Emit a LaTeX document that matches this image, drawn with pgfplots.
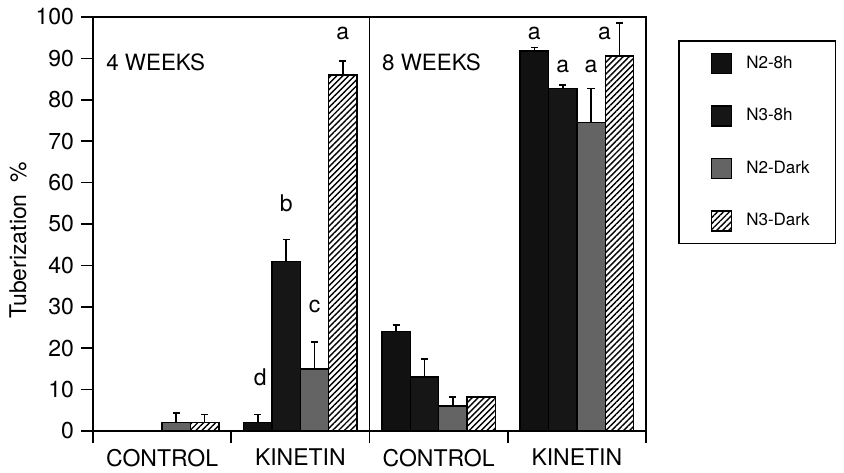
\documentclass[border=0pt]{standalone}
\usepackage{fontspec}
\setmainfont{TeX Gyre Heros}
\usepackage{pgfplots}
\pgfplotsset{compat=1.18}
\usetikzlibrary{patterns.meta}
\definecolor{darkA}{HTML}{111111}
\definecolor{darkB}{HTML}{161616}
\definecolor{grayC}{HTML}{646464}
\pgfplotsset{
  sqlegend/.style={legend image code/.code={\path (0pt,0pt); \draw[##1,line width=0.7pt] (5pt,-5pt) rectangle (15pt,5pt);}},
  errs/.style={error bars/.cd, y dir=plus, y explicit,
     error bar style={line width=0.8pt,black},
     error mark options={rotate=90,mark size=1.8pt,line width=0.8pt,black}},
}
\begin{document}
\begin{tikzpicture}
\begin{axis}[
  width=276.5pt, height=207pt, scale only axis,
  ybar=0pt, bar width=0.205,
  xmin=0.5, xmax=4.5, ymin=0, ymax=100,
  xtick={1,2,3,4}, xticklabels={CONTROL,KINETIN,CONTROL,KINETIN},
  minor xtick={0.5,1.5,2.5,3.5,4.5},
  ytick={0,10,...,100},
  tick align=outside, xtick pos=left, ytick pos=left,
  major tick length=6pt, minor tick length=6pt,
  every major x tick/.append style={draw=none},
  every tick/.append style={line width=0.8pt,black},
  axis line style={line width=0.8pt},
  /pgf/number format/assume math mode=true,
  tick label style={font=\fontsize{11.5}{13}\selectfont},
  xticklabel style={yshift=0.5pt},
  ylabel={Tuberization\enspace\%},
  ylabel style={font=\fontsize{11.5}{13}\selectfont, at={([xshift=-37.5pt]rel axis cs:0,0.46)}, anchor=center},
  legend style={at={(rel axis cs:1.058,0.944)}, anchor=north west, draw=black, line width=0.8pt,
     font=\fontsize{8.5}{10}\selectfont, row sep=14.5pt, inner xsep=11pt, inner ysep=5.5pt,
     column sep=5pt},
  legend cell align=left,
  clip=false,
]
\addplot[fill=darkA, draw=black, line width=0.7pt, sqlegend, errs]
  coordinates {(1,0) +- (0,0) (2,2) +- (0,2) (3,24) +- (0,1.6) (4,91.8) +- (0,0.8)};
\addlegendentry{N2-8h}
\addplot[fill=darkB, draw=black, line width=0.7pt, sqlegend, errs]
  coordinates {(1,0) +- (0,0) (2,41) +- (0,5.3) (3,13) +- (0,4.4) (4,82.8) +- (0,0.8)};
\addlegendentry{N3-8h}
\addplot[fill=grayC, draw=black, line width=0.7pt, sqlegend, errs]
  coordinates {(1,2) +- (0,2.3) (2,15) +- (0,6.5) (3,6) +- (0,2.2) (4,74.5) +- (0,8.2)};
\addlegendentry{N2-Dark}
\addplot[fill=white, draw=black, line width=0.7pt,
  postaction={pattern={Lines[angle=45,distance=2.1pt,line width=0.7pt]}}, sqlegend, errs]
  coordinates {(1,2) +- (0,2) (2,86) +- (0,3.3) (3,8.2) +- (0,0) (4,90.6) +- (0,8)};
\addlegendentry{N3-Dark}
\draw[line width=0.8pt] (axis cs:2.5,0) -- (axis cs:2.5,100);
\node[anchor=west, font=\fontsize{11.2}{13}\selectfont] at (axis cs:0.545,89) {4 WEEKS};
\node[anchor=west, font=\fontsize{11.2}{13}\selectfont] at (axis cs:2.54,89) {8 WEEKS};
\begin{scope}[every node/.style={font=\fontsize{11.5}{13}\selectfont}]
\node at (axis cs:1.71,13) {d};
\node at (axis cs:1.8975,55) {b};
\node at (axis cs:2.1025,30) {c};
\node at (axis cs:2.3075,96) {a};
\node at (axis cs:3.6925,96) {a};
\node at (axis cs:3.8975,88) {a};
\node at (axis cs:4.1025,88) {a};
\node at (axis cs:4.2,96) {a};
\end{scope}
\coordinate (O) at (rel axis cs:0,0);
\coordinate (TR) at (rel axis cs:1,1);
\end{axis}
\pgfresetboundingbox
\path ([shift={(-46.5pt,-20.5pt)}]O) rectangle ([shift={(99pt,8.5pt)}]TR);
\end{tikzpicture}
\end{document}
